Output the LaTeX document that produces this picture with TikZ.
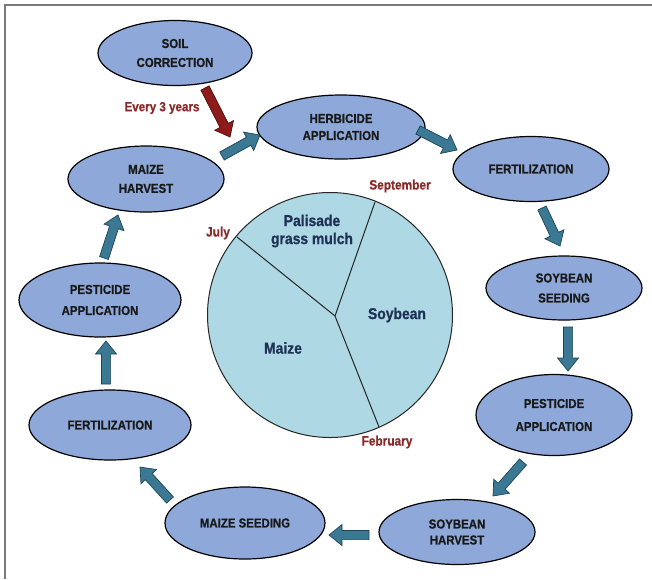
\documentclass[tikz,border=0pt]{standalone}
\usepackage{fontspec}
\setmainfont{Liberation Sans}[FakeStretch=0.88, BoldFeatures={FakeBold=0.7}]
\usetikzlibrary{calc,shapes.geometric}
\definecolor{ellfill}{HTML}{8EA9D9}
\definecolor{piefill}{HTML}{ADD8E4}
\definecolor{navy}{HTML}{1F3256}
\definecolor{darkred}{HTML}{8B2A2A}
\definecolor{arrfill}{HTML}{3B7893}
\definecolor{arrline}{HTML}{1E4656}
\definecolor{redfill}{HTML}{8E1B1B}
\definecolor{redline}{HTML}{4A0E0E}
\definecolor{framegray}{HTML}{7A7A7A}
\newcommand\shaftw{4.6pt}
\newcommand\headw{10.5pt}
\newcommand\headlen{13pt}
\newcommand\blockarrow[3]{%
  \coordinate (bab) at ($(#3)!\headlen!(#2)$);
  \path[#1] ($(#2)!\shaftw!90:(#3)$) -- ($(bab)!\shaftw!90:(#3)$) -- ($(bab)!\headw!90:(#3)$) -- (#3)
    -- ($(bab)!\headw!-90:(#3)$) -- ($(bab)!\shaftw!-90:(#3)$) -- ($(#2)!\shaftw!-90:(#3)$) -- cycle;}
\tikzset{
  stage/.style={ellipse, draw=black, line width=1.2pt, fill=ellfill, inner sep=0pt,
    font=\fontsize{13}{15}\selectfont\bfseries, text=black!90, align=center},
  piel/.style={font=\fontsize{15.8}{17}\selectfont\bfseries, text=navy, align=center},
  month/.style={font=\fontsize{13.5}{15}\selectfont\bfseries, text=darkred},
  tealarrow/.style={fill=arrfill, draw=arrline, line width=0.7pt, line join=miter},
  redarrow/.style={fill=redfill, draw=redline, line width=0.7pt, line join=miter}
}
\begin{document}
\begin{tikzpicture}[x=1pt,y=-1pt]
\useasboundingbox (0,0) rectangle (652,579);
\fill[white] (0,0) rectangle (652,579);
\draw[framegray, line width=2pt] (5,579) -- (5,5) -- (652,5);

% pie
\coordinate (pc) at (330,315);
\coordinate (hub) at (335,316);
\coordinate (jul) at (237,237);
\coordinate (sep) at (375,202);
\coordinate (feb) at (379,427);
\draw[fill=piefill, draw=black!85, line width=1pt] (pc) circle[radius=122.5pt];
\draw[black!85, line width=1pt] (jul) -- (hub) -- (sep) (hub) -- (feb);
\node[piel] (pal) at (312,231) {Palisade\\[1pt]grass mulch};
\node[piel] (soy) at (397,315) {Soybean};
\node[piel] (mai) at (283,348) {Maize};
\node[month] (lsep) at (400,186) {September};
\node[month] (ljul) at (218,233) {July};
\node[month] (lfeb) at (387,442) {February};

% stages
\node[stage, minimum width=154pt, minimum height=65pt] (soil) at (175,53) {SOIL\\[4pt]CORRECTION};
\node[stage, minimum width=168pt, minimum height=64pt] (herb) at (341,127) {HERBICIDE\\[2pt]APPLICATION};
\node[stage, minimum width=156pt, minimum height=65pt] (fert1) at (531,169) {FERTILIZATION};
\node[stage, minimum width=156pt, minimum height=64pt] (sseed) at (564,288) {SOYBEAN\\[5pt]SEEDING};
\node[stage, minimum width=156pt, minimum height=81pt] (pest1) at (554,415) {PESTICIDE\\[8pt]APPLICATION};
\node[stage, minimum width=156pt, minimum height=65pt] (sharv) at (457,532) {SOYBEAN\\[1pt]HARVEST};
\node[stage, minimum width=160pt, minimum height=72pt] (mseed) at (245,523) {MAIZE SEEDING};
\node[stage, minimum width=162pt, minimum height=70pt] (fert2) at (110,425) {FERTILIZATION};
\node[stage, minimum width=162pt, minimum height=74pt] (pest2) at (100,300) {PESTICIDE\\[6pt]APPLICATION};
\node[stage, minimum width=156pt, minimum height=66pt] (mharv) at (146,179) {MAIZE\\[4pt]HARVEST};

% arrow end points
\coordinate (r0) at (205,88);   \coordinate (r1) at (230,137);
\coordinate (a1s) at (222,156); \coordinate (a1e) at (260,135);
\coordinate (a2s) at (418,130); \coordinate (a2e) at (457,150);
\coordinate (a3s) at (542,208); \coordinate (a3e) at (560,246);
\coordinate (a4s) at (568,327); \coordinate (a4e) at (568,371);
\coordinate (a5s) at (523,462); \coordinate (a5e) at (493,496);
\coordinate (a6s) at (369,535); \coordinate (a6e) at (329,535);
\coordinate (a7s) at (170,500); \coordinate (a7e) at (140,467);
\coordinate (a8s) at (106,384); \coordinate (a8e) at (106,341);
\coordinate (a9s) at (104,258); \coordinate (a9e) at (118,215);

\blockarrow{redarrow}{r0}{r1}
\node[month, font=\fontsize{13.2}{15}\selectfont\bfseries] (every) at (162,108) {Every 3 years};
\blockarrow{tealarrow}{a1s}{a1e}
\blockarrow{tealarrow}{a2s}{a2e}
\blockarrow{tealarrow}{a3s}{a3e}
\blockarrow{tealarrow}{a4s}{a4e}
\blockarrow{tealarrow}{a5s}{a5e}
\blockarrow{tealarrow}{a6s}{a6e}
\blockarrow{tealarrow}{a7s}{a7e}
\blockarrow{tealarrow}{a8s}{a8e}
\blockarrow{tealarrow}{a9s}{a9e}
\end{tikzpicture}
\end{document}
